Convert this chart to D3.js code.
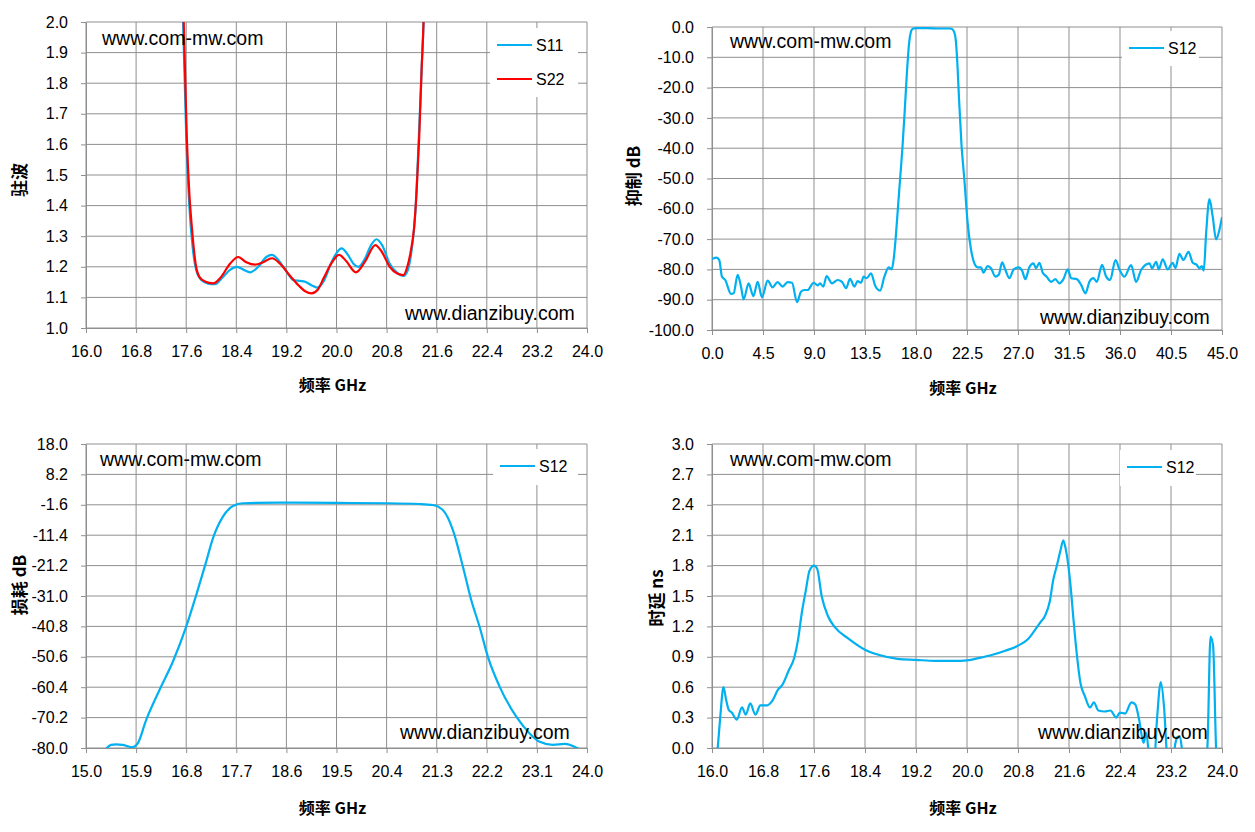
<!DOCTYPE html>
<html>
<head>
<meta charset="utf-8">
<script src="https://cdn.jsdelivr.net/npm/d3@7"></script>
<style>
  body { margin: 0; background: #fff; }
  text { font-family: "Liberation Sans", Arial, sans-serif; }
</style>
</head>
<body>
<svg id="chart" width="1255" height="832"></svg>
<script>
// ---- panel 1 : VSWR ----
const s11Freq = [17.50, 17.55, 17.60, 17.65, 17.70, 17.76, 17.85, 17.95, 18.06, 18.18, 18.30, 18.41, 18.52, 18.62, 18.75, 18.88, 18.97, 19.08, 19.20, 19.31, 19.42, 19.50, 19.60, 19.69, 19.80, 19.92, 20.00, 20.08, 20.18, 20.27, 20.35, 20.45, 20.55, 20.64, 20.73, 20.85, 20.97, 21.07, 21.14, 21.20, 21.26, 21.31, 21.36, 21.39, 21.43]
const s11Vswr = [2.6, 2.0, 1.63, 1.40, 1.27, 1.19, 1.155, 1.145, 1.143, 1.165, 1.19, 1.20, 1.19, 1.182, 1.20, 1.232, 1.239, 1.22, 1.185, 1.157, 1.154, 1.151, 1.14, 1.132, 1.155, 1.215, 1.245, 1.26, 1.24, 1.21, 1.20, 1.225, 1.27, 1.29, 1.27, 1.21, 1.18, 1.17, 1.19, 1.255, 1.38, 1.6, 1.85, 2.0, 2.4]
const s22Freq = [17.50, 17.56, 17.61, 17.65, 17.69, 17.75, 17.81, 17.90, 18.03, 18.15, 18.30, 18.43, 18.56, 18.70, 18.83, 18.97, 19.10, 19.26, 19.40, 19.50, 19.60, 19.70, 19.80, 19.93, 20.04, 20.15, 20.31, 20.45, 20.62, 20.72, 20.85, 20.97, 21.07, 21.13, 21.18, 21.24, 21.28, 21.32, 21.36, 21.39, 21.43]
const s22Vswr = [2.7, 2.0, 1.62, 1.44, 1.33, 1.21, 1.167, 1.152, 1.146, 1.165, 1.21, 1.232, 1.215, 1.207, 1.215, 1.228, 1.21, 1.17, 1.138, 1.12, 1.113, 1.125, 1.165, 1.215, 1.239, 1.22, 1.182, 1.215, 1.271, 1.25, 1.2, 1.178, 1.173, 1.2, 1.244, 1.33, 1.45, 1.62, 1.85, 2.0, 2.4]
const p1XTicks = [16.0, 16.8, 17.6, 18.4, 19.2, 20.0, 20.8, 21.6, 22.4, 23.2, 24.0]
const p1YTicks = [1.0, 1.1, 1.2, 1.3, 1.4, 1.5, 1.6, 1.7, 1.8, 1.9, 2.0]

// ---- panel 2 : rejection, wide band ----
const rejFreq = [0, 0.41, 0.64, 0.88, 1.17, 1.68, 1.91, 2.26, 2.56, 2.79, 3.23, 3.65, 4.03, 4.41, 4.91, 5.35, 5.79, 6.23, 6.67, 7.06, 7.5, 7.85, 8.15, 8.44, 8.97, 9.32, 9.53, 9.82, 10.11, 10.59, 11.09, 11.47, 11.83, 12.18, 12.56, 12.85, 13.15, 13.38, 13.65, 14.03, 14.41, 14.83, 15.21, 15.59, 15.85,
  16.05, 16.2, 16.4, 16.6, 16.8, 17.0, 17.2, 17.4, 17.55, 17.7, 18.0, 19.0, 20.0, 21.0, 21.2, 21.35, 21.5, 21.65, 21.8, 22.0,
  22.27, 22.56, 22.86, 23.15, 23.44, 23.74, 23.94, 24.33, 24.62, 25.0, 25.3, 25.6, 25.89, 26.24, 26.62, 27.06, 27.36, 27.65, 28.0, 28.36, 28.6, 28.89, 29.18, 29.53, 29.92, 30.3, 30.65, 31.0, 31.39, 31.69, 32.18, 32.57, 32.95, 33.3, 33.65, 33.95, 34.42, 34.78, 35.13, 35.6, 35.95, 36.39, 36.98, 37.42, 37.86, 38.6, 38.83, 39.19, 39.42, 39.77, 40.21, 40.65, 40.89, 41.24, 41.6, 42.04, 42.42, 42.77, 43.01, 43.21, 43.39, 43.6, 43.89, 44.18, 44.48, 44.77, 45.0]
const rejS12 = [-76.6, -76.1, -76.9, -82.4, -83.5, -88.1, -87.9, -81.8, -85.7, -89.9, -84.6, -88.8, -84.1, -89.2, -83.7, -85.9, -84.2, -85.7, -84.2, -84.4, -90.8, -87.4, -86.8, -86.8, -84.4, -85.3, -84.6, -85.7, -82.2, -84.6, -83.5, -84.1, -86.2, -83.1, -85.7, -83.9, -84.4, -82.4, -82.9, -81.3, -85.5, -87.0, -82.4, -79.3, -80.0,
  -76, -70, -60, -50, -40, -28, -15, -5, -1.6, -0.6, -0.4, -0.4, -0.5, -0.5, -0.7, -1.5, -4, -12, -24, -38,
  -50.5, -64.8, -73.6, -78, -79.3, -79.3, -81.1, -78.9, -79.6, -82.4, -81.8, -77.7, -80.2, -82.9, -80, -79.3, -80.4, -83.2, -79.3, -78, -79.6, -77.8, -81.1, -82.4, -84.1, -83.2, -84.6, -83.3, -80, -82.9, -83.2, -85.1, -87.9, -84.1, -82.9, -84.1, -78.5, -82.4, -83.5, -76.9, -80, -82.4, -78.6, -84.1, -80.2, -78, -79.6, -77.5, -80, -76.7, -80, -77.8, -79.6, -74.9, -76.9, -74.2, -77.8, -78.5, -79.6, -78.9, -80.4, -68.1, -56.8, -62.6, -70.1, -67, -62.8]
const p2XTicks = [0, 4.5, 9.0, 13.5, 18.0, 22.5, 27.0, 31.5, 36.0, 40.5, 45.0]
const p2YTicks = [0, -10, -20, -30, -40, -50, -60, -70, -80, -90, -100]

// ---- panel 3 : insertion loss ----
const lossFreq = [15.30, 15.37, 15.45, 15.54, 15.66, 15.78, 15.84, 15.93, 16.08, 16.32, 16.56, 16.80, 16.98, 17.15, 17.28, 17.46, 17.64, 17.82, 18.48, 19.5, 20.4, 20.99, 21.23, 21.41, 21.59, 21.77, 21.92, 22.07, 22.22, 22.43, 22.73, 22.97, 23.15, 23.39, 23.60, 23.81, 23.86, 23.95]
const lossS12 = [-82, -80.1, -79.0, -78.8, -79.0, -79.6, -79.7, -78.5, -71, -61.3, -52.2, -40.9, -30.7, -20.5, -12.4, -5.4, -2.0, -1.1, -0.9, -1.0, -1.1, -1.34, -1.66, -3.3, -9.7, -21.5, -32.3, -40.9, -50.6, -60.2, -69.9, -75.3, -78, -79, -78.7, -79.9, -80.4, -82]
const p3XTicks = [15.0, 15.9, 16.8, 17.7, 18.6, 19.5, 20.4, 21.3, 22.2, 23.1, 24.0]
const p3YTicks = [18.0, 8.2, -1.6, -11.4, -21.2, -31.0, -40.8, -50.6, -60.4, -70.2, -80.0]

// ---- panel 4 : group delay ----
const delayFreq = [16.05, 16.09, 16.13, 16.18, 16.22, 16.26, 16.31, 16.39, 16.47, 16.53, 16.60, 16.68, 16.76, 16.86, 16.94, 17.04, 17.10, 17.20, 17.29, 17.35, 17.41, 17.47, 17.53, 17.60, 17.65, 17.72, 17.82, 17.93, 18.14, 18.40, 18.61, 18.91, 19.2, 19.5, 19.8, 20.0, 20.2, 20.4, 20.6, 20.8, 20.95, 21.05, 21.15, 21.22, 21.30, 21.35, 21.41, 21.47, 21.51, 21.55, 21.62, 21.67, 21.72, 21.78, 21.85, 21.93, 21.99, 22.06, 22.16, 22.25, 22.34, 22.40, 22.48, 22.58, 22.64, 22.70, 22.77, 22.81, 22.86, 22.92, 22.98, 23.04, 23.09, 23.14, 23.20, 23.27, 23.30, 23.34, 23.38, 23.45, 23.70, 23.77, 23.82, 23.86, 23.91, 23.95]
const delayS12 = [-0.3, 0, 0.31, 0.60, 0.48, 0.38, 0.35, 0.28, 0.40, 0.33, 0.44, 0.33, 0.42, 0.42, 0.46, 0.58, 0.62, 0.76, 0.89, 1.07, 1.34, 1.55, 1.75, 1.80, 1.77, 1.50, 1.30, 1.19, 1.08, 0.97, 0.92, 0.88, 0.87, 0.86, 0.86, 0.865, 0.89, 0.92, 0.96, 1.01, 1.07, 1.15, 1.24, 1.30, 1.45, 1.65, 1.80, 1.96, 2.05, 1.96, 1.63, 1.27, 0.94, 0.64, 0.51, 0.40, 0.45, 0.37, 0.36, 0.37, 0.30, 0.35, 0.34, 0.45, 0.43, 0.28, 0.05, 0.15, -0.1, -0.3, 0.28, 0.65, 0.41, -0.1, -0.3, 0.05, 0.11, 0.11, -0.05, -0.3, -0.3, 0.0, 1.10, 1.01, -0.05, -0.3]
const p4XTicks = [16.0, 16.8, 17.6, 18.4, 19.2, 20.0, 20.8, 21.6, 22.4, 23.2, 24.0]
const p4YTicks = [0.0, 0.3, 0.6, 0.9, 1.2, 1.5, 1.8, 2.1, 2.4, 2.7, 3.0]

const BLUE = '#00b0f0'
const RED = '#ff0000'
const GRID = '#8f8f8f'
const xTitle = '频率  GHz'

const svg = d3.select('#chart')
svg.append('rect').attr('width', 1255).attr('height', 832).attr('fill', '#fff')

const zip = (xs, ys) => xs.map((f, i) => [f, ys[i]])

function drawPanel(p, id) {
  const g = svg.append('g')
  const x = d3.scaleLinear().domain([p.xTicks[0], p.xTicks[p.xTicks.length - 1]]).range([p.left, p.right])
  const y = d3.scaleLinear().domain(d3.extent(p.yTicks)).range([p.bottom, p.top])

  // gridlines
  g.selectAll('.vgrid').data(p.xTicks).enter().append('line')
    .attr('x1', d => x(d)).attr('x2', d => x(d))
    .attr('y1', p.top).attr('y2', p.bottom)
    .attr('stroke', GRID).attr('stroke-width', 1)
  g.selectAll('.hgrid').data(p.yTicks).enter().append('line')
    .attr('x1', p.left).attr('x2', p.right)
    .attr('y1', d => y(d)).attr('y2', d => y(d))
    .attr('stroke', GRID).attr('stroke-width', 1)

  // axes
  const fmt = d => d.toFixed(1)
  const yAxis = g.append('g').attr('transform', `translate(${p.left},0)`)
    .call(d3.axisLeft(y).tickValues(p.yTicks).tickFormat(fmt).tickSize(5).tickSizeOuter(0).tickPadding(13))
  const xAxis = g.append('g').attr('transform', `translate(0,${p.bottom})`)
    .call(d3.axisBottom(x).tickValues(p.xTicks).tickFormat(fmt).tickSize(5).tickSizeOuter(0).tickPadding(13))
  ;[xAxis, yAxis].forEach(a => {
    a.select('.domain').attr('stroke', GRID)
    a.selectAll('.tick line').attr('stroke', GRID)
    a.selectAll('.tick text').attr('fill', '#000')
      .style('font-family', '"Liberation Sans", Arial, sans-serif').style('font-size', '16px')
  })

  // series, clipped to the plot area
  g.append('clipPath').attr('id', 'clip' + id).append('rect')
    .attr('x', p.left).attr('y', p.top).attr('width', p.right - p.left).attr('height', p.bottom - p.top)
  const line = d3.line().x(d => x(d[0])).y(d => y(d[1])).curve(d3.curveMonotoneX)
  p.series.forEach(s => {
    g.append('path').datum(s.points)
      .attr('clip-path', `url(#clip${id})`)
      .attr('fill', 'none').attr('stroke', s.color).attr('stroke-width', 2.2)
      .attr('stroke-linejoin', 'round')
      .attr('d', line)
  })

  // legend
  g.append('rect').attr('x', p.legend.x).attr('y', p.legend.y)
    .attr('width', p.legend.w).attr('height', p.legend.h).attr('fill', '#fff')
  p.series.forEach((s, i) => {
    const ly = p.legend.y + 17 + i * 34
    g.append('line').attr('x1', p.legend.x + 7).attr('x2', p.legend.x + 42)
      .attr('y1', ly).attr('y2', ly).attr('stroke', s.color).attr('stroke-width', 2.2)
    g.append('text').attr('x', p.legend.x + 46).attr('y', ly + 6)
      .style('font-size', '16px').text(s.name)
  })

  // watermarks
  g.append('text').attr('x', p.wm1[0]).attr('y', p.wm1[1]).style('font-size', '19.5px').text('www.com-mw.com')
  g.append('text').attr('x', p.wm2[0]).attr('y', p.wm2[1]).style('font-size', '19.5px').text('www.dianzibuy.com')

  // axis titles
  g.append('text').attr('x', (p.left + p.right) / 2 - 4).attr('y', p.xTitleY)
    .attr('text-anchor', 'middle')
    .style('font-family', '"Noto Sans CJK SC", sans-serif').style('font-weight', 'bold').style('font-size', '16px')
    .text(xTitle)
  g.append('text').attr('transform', `translate(${p.yTitle[0]},${p.yTitle[1]}) rotate(-90)`)
    .attr('text-anchor', 'middle').attr('dominant-baseline', 'central')
    .style('font-family', '"Noto Sans CJK SC", sans-serif').style('font-weight', 'bold').style('font-size', '17px')
    .text(p.yLabel)
}

drawPanel({
  left: 86, right: 587, top: 22, bottom: 328,
  xTicks: p1XTicks, yTicks: p1YTicks,
  series: [
    { name: 'S11', color: BLUE, points: zip(s11Freq, s11Vswr) },
    { name: 'S22', color: RED, points: zip(s22Freq, s22Vswr) }
  ],
  legend: { x: 490, y: 28, w: 88, h: 69 },
  wm1: [102, 45], wm2: [405, 320],
  xTitleY: 391, yTitle: [18, 180], yLabel: '驻波'
}, 1)

drawPanel({
  left: 712, right: 1222, top: 27, bottom: 330,
  xTicks: p2XTicks, yTicks: p2YTicks,
  series: [{ name: 'S12', color: BLUE, points: zip(rejFreq, rejS12) }],
  legend: { x: 1122, y: 31, w: 77, h: 35 },
  wm1: [730, 48], wm2: [1040, 324],
  xTitleY: 394, yTitle: [632, 176], yLabel: '抑制 dB'
}, 2)

drawPanel({
  left: 86, right: 587, top: 444, bottom: 748,
  xTicks: p3XTicks, yTicks: p3YTicks,
  series: [{ name: 'S12', color: BLUE, points: zip(lossFreq, lossS12) }],
  legend: { x: 493, y: 449, w: 85, h: 36 },
  wm1: [100, 466], wm2: [400, 739],
  xTitleY: 814, yTitle: [18, 585], yLabel: '损耗 dB'
}, 3)

drawPanel({
  left: 712, right: 1222, top: 444, bottom: 748,
  xTicks: p4XTicks, yTicks: p4YTicks,
  series: [{ name: 'S12', color: BLUE, points: zip(delayFreq, delayS12) }],
  legend: { x: 1120, y: 450, w: 76, h: 36 },
  wm1: [730, 466], wm2: [1038, 739],
  xTitleY: 814, yTitle: [655, 598], yLabel: '时延 ns'
}, 4)
</script>
</body>
</html>
